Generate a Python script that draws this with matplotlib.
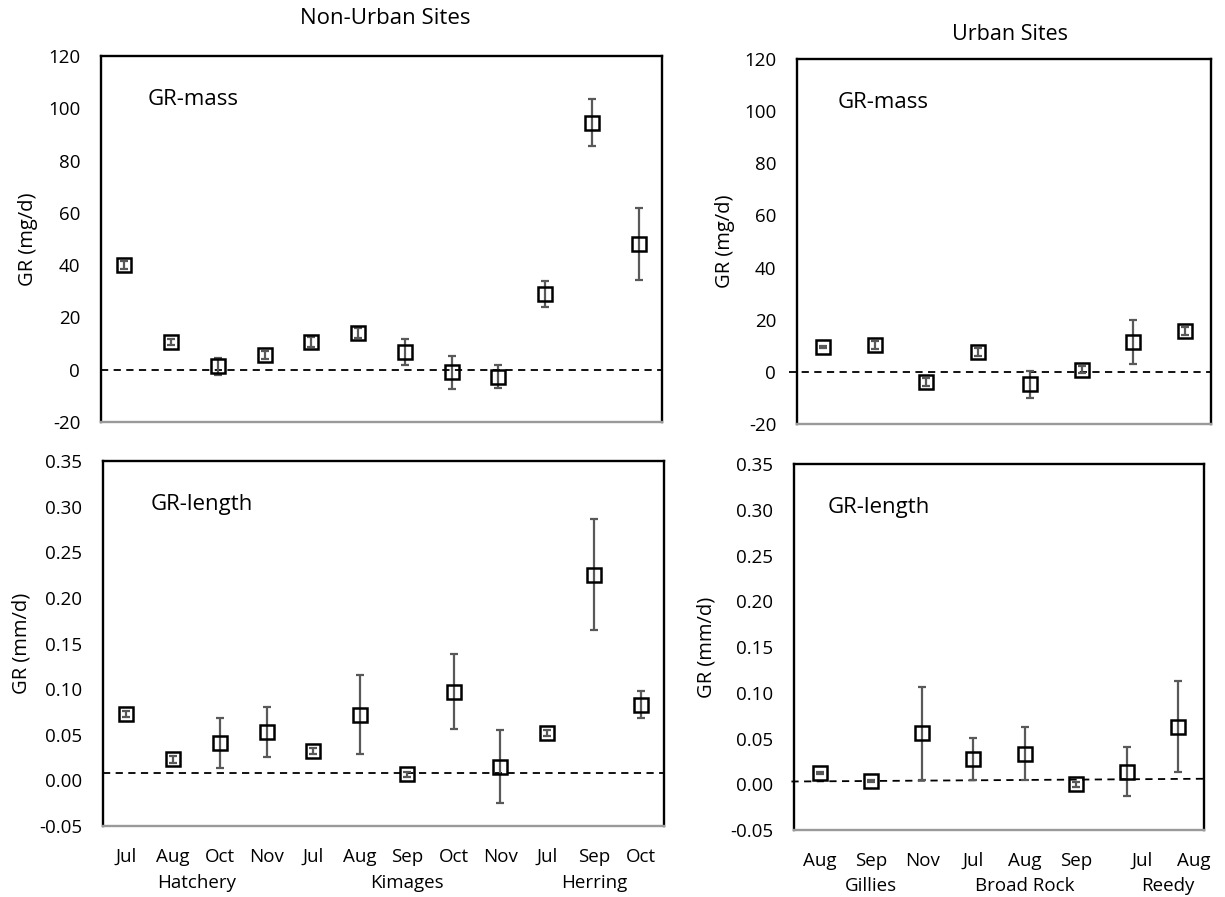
#!/usr/bin/env python3
from __future__ import annotations

import matplotlib

matplotlib.use("Agg")

import matplotlib.pyplot as plt  # noqa: E402
import matplotlib.transforms as mtransforms  # noqa: E402
from matplotlib.ticker import FormatStrFormatter, MultipleLocator  # noqa: E402

plt.rcParams["font.family"] = ["Open Sans", "DejaVu Sans"]
plt.rcParams["axes.unicode_minus"] = False

# non-urban sites
NONURBAN_MONTHS = ["Jul", "Aug", "Oct", "Nov", "Jul", "Aug", "Sep", "Oct", "Nov", "Jul", "Sep", "Oct"]
NONURBAN_SITES = ["Hatchery", "Kimages", "Herring"]
NONURBAN_SITE_COUNTS = [4, 5, 3]
NONURBAN_MASS = [40.2, 10.6, 1.3, 5.7, 10.6, 14.0, 6.8, -1.0, -2.6, 29.1, 94.4, 48.1]
NONURBAN_MASS_ERR = [1.5, 1.3, 3.2, 1.5, 2.0, 2.0, 5.0, 6.3, 4.3, 5.0, 9.0, 13.9]
NONURBAN_LENGTH = [0.073, 0.023, 0.041, 0.053, 0.032, 0.072, 0.0066, 0.097, 0.015, 0.052, 0.2255, 0.083]
NONURBAN_LENGTH_ERR = [0.003, 0.004, 0.027, 0.027, 0.003, 0.043, 0.003, 0.041, 0.040, 0.003, 0.061, 0.015]
NONURBAN_MASS_REF = [0.0, 0.0]
NONURBAN_LENGTH_REF = [0.008, 0.008]

# urban sites
URBAN_MONTHS = ["Aug", "Sep", "Nov", "Jul", "Aug", "Sep", "Jul", "Aug"]
URBAN_SITES = ["Gillies", "Broad Rock", "Reedy"]
URBAN_SITE_COUNTS = [3, 3, 2]
URBAN_MASS = [9.6, 10.4, -3.8, 7.6, -4.8, 0.9, 11.3, 15.8]
URBAN_MASS_ERR = [0.5, 1.5, 1.5, 1.5, 5.3, 1.3, 8.4, 1.5]
URBAN_LENGTH = [0.012, 0.0036, 0.0558, 0.0274, 0.0332, 0.0, 0.0139, 0.063]
URBAN_LENGTH_ERR = [0.001, 0.001, 0.051, 0.023, 0.029, 0.003, 0.027, 0.050]
URBAN_MASS_REF = [0.0, 0.0]
URBAN_LENGTH_REF = [0.003, 0.006]

FIG_W, FIG_H = 1225, 897
ERR_COLOR = "#595959"


def box(left, top, right, bottom):
    return [left / FIG_W, 1 - bottom / FIG_H, (right - left) / FIG_W, (bottom - top) / FIG_H]


def draw_panel(ax, values, errors, ref, ylim, step, fmt, ylabel, tag, tag_x, label_x, left_pad=0.0):
    n = len(values)
    x = list(range(1, n + 1))
    ax.plot([0.5 - left_pad, n + 0.5], ref, color="black", lw=1.3,
            linestyle=(0, (4, 3)), clip_on=False, zorder=2)
    ax.errorbar(x, values, yerr=errors, fmt="none", ecolor=ERR_COLOR,
                elinewidth=1.6, capsize=3.2, capthick=1.6, zorder=3)
    ax.plot(x, values, linestyle="none", marker="s", markersize=10.5,
            markerfacecolor="none", markeredgecolor="black", markeredgewidth=1.8, zorder=4)
    ax.set_xlim(0.5, n + 0.5)
    ax.set_ylim(*ylim)
    ax.yaxis.set_major_locator(MultipleLocator(step))
    ax.yaxis.set_major_formatter(FormatStrFormatter(fmt))
    ax.tick_params(axis="y", length=0, pad=15, labelsize=13.5)
    ax.tick_params(axis="x", length=0, pad=16, labelsize=13.5)
    for side in ("left", "right", "top"):
        ax.spines[side].set_color("black")
        ax.spines[side].set_linewidth(1.7)
    ax.spines["bottom"].set_color("#9a9a9a")
    ax.spines["bottom"].set_linewidth(1.7)
    ax.set_ylabel(ylabel, fontsize=14.5)
    ax.yaxis.set_label_coords(label_x, 0.5)
    ax.text(tag_x, 0.88, tag, transform=ax.transAxes, fontsize=16, va="center", ha="left")


def label_months(ax, months, sites, counts, y_group, last_shift_px=0.0):
    fig = ax.figure
    n = len(months)
    ax.set_xticks(range(1, n + 1))
    ax.set_xticklabels(months)
    shift = mtransforms.ScaledTranslation(last_shift_px / 100, 0, fig.dpi_scale_trans)
    last_start = n - counts[-1]
    for i, lab in enumerate(ax.get_xticklabels()):
        if i >= last_start and last_shift_px:
            lab.set_transform(lab.get_transform() + shift)
    start = 1
    trans = ax.get_xaxis_transform()
    for j, (site, count) in enumerate(zip(sites, counts)):
        center = start + (count - 1) / 2
        t = trans
        if j == len(sites) - 1 and last_shift_px:
            t = trans + shift
        ax.text(center, y_group, site, transform=t, ha="center", va="center", fontsize=13.5)
        start += count


def main() -> None:
    fig = plt.figure(figsize=(FIG_W / 100, FIG_H / 100), dpi=100)
    ax_tl = fig.add_axes(box(101, 56, 662, 422))
    ax_bl = fig.add_axes(box(103, 461, 664, 826))
    ax_tr = fig.add_axes(box(797, 59, 1211, 424))
    ax_br = fig.add_axes(box(794, 464, 1204, 830))

    draw_panel(ax_tl, NONURBAN_MASS, NONURBAN_MASS_ERR, NONURBAN_MASS_REF, (-20, 120), 20, "%d",
               "GR (mg/d)", "GR-mass", 0.084, -0.112)
    draw_panel(ax_bl, NONURBAN_LENGTH, NONURBAN_LENGTH_ERR, NONURBAN_LENGTH_REF, (-0.05, 0.35), 0.05,
               "%.2f", "GR (mm/d)", "GR-length", 0.085, -0.127)
    draw_panel(ax_tr, URBAN_MASS, URBAN_MASS_ERR, URBAN_MASS_REF, (-20, 120), 20, "%d",
               "GR (mg/d)", "GR-mass", 0.099, -0.150, left_pad=0.15)
    draw_panel(ax_br, URBAN_LENGTH, URBAN_LENGTH_ERR, URBAN_LENGTH_REF, (-0.05, 0.35), 0.05,
               "%.2f", "GR (mm/d)", "GR-length", 0.083, -0.188, left_pad=0.05)

    for ax in (ax_tl, ax_tr):
        ax.set_xticks([])

    label_months(ax_bl, NONURBAN_MONTHS, NONURBAN_SITES, NONURBAN_SITE_COUNTS, -0.155)
    label_months(ax_br, URBAN_MONTHS, URBAN_SITES, URBAN_SITE_COUNTS, -0.152, last_shift_px=15)

    fig.text(385 / FIG_W, 1 - 18 / FIG_H, "Non-Urban Sites", ha="center", va="center", fontsize=16)
    fig.text(1010 / FIG_W, 1 - 35 / FIG_H, "Urban Sites", ha="center", va="center", fontsize=15.5)

    fig.savefig("out.png", dpi=100, facecolor="white")
    plt.close(fig)


if __name__ == "__main__":
    main()
